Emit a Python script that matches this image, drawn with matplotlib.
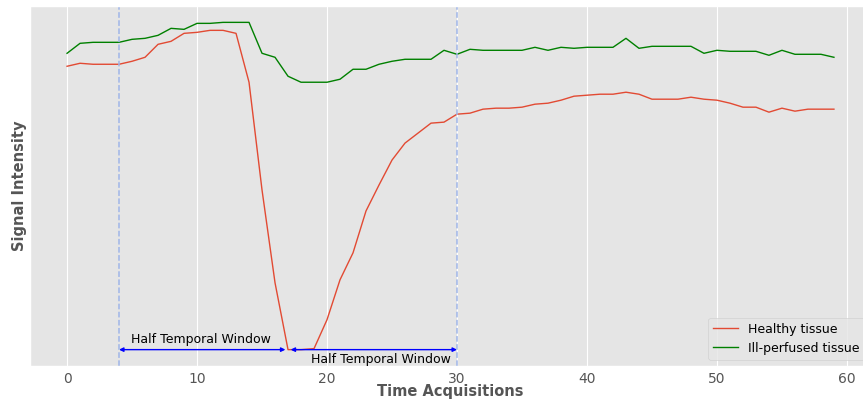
import numpy as np
import matplotlib
matplotlib.use("Agg")
import matplotlib.pyplot as plt

plt.style.use("ggplot")

# signal values (arbitrary units), one per acquisition
healthy = [300, 303, 302, 302, 302, 305, 309, 322, 325, 333, 334, 336, 336, 333,
           284, 176, 83, 16, 16, 17, 46, 86, 113, 155, 181, 206, 223, 233, 243, 244,
           252, 253, 257, 258, 258, 259, 262, 263, 266, 270, 271, 272, 272, 274,
           272, 267, 267, 267, 269, 267, 266, 263, 259, 259, 254, 258, 255, 257, 257, 257]
ill_perfused = [313, 323, 324, 324, 324, 327, 328, 331, 338, 337, 343, 343, 344, 344,
                344, 313, 309, 290, 284, 284, 284, 287, 297, 297, 302, 305, 307, 307,
                307, 316, 312, 317, 316, 316, 316, 316, 319, 316, 319, 318, 319, 319,
                319, 328, 318, 320, 320, 320, 320, 313, 316, 315, 315, 315, 311, 316,
                312, 312, 312, 309]
time = np.arange(len(healthy))

window_start = 4
window_center = 17
window_end = 30

fig = plt.figure(figsize=(8.63, 4.0), dpi=100)
# the original figure is cropped on the right, so the axes run past the edge
ax = fig.add_axes([30 / 863, 34 / 400, 841 / 863, 360 / 400])

ax.plot(time, healthy, color="#E24A33", lw=1, label="Healthy tissue")
ax.plot(time, ill_perfused, color="green", lw=1, label="Ill-perfused tissue")

ax.axvline(window_start, color="#9fb5e8", ls="--", lw=1.1)
ax.axvline(window_end, color="#9fb5e8", ls="--", lw=1.1)

y_arrow = 16
ax.annotate("", xy=(window_start, y_arrow), xytext=(window_center - 0.2, y_arrow),
            arrowprops=dict(arrowstyle="<|-|>", color="blue", lw=1,
                            mutation_scale=6, shrinkA=0, shrinkB=0))
ax.annotate("", xy=(window_center + 0.2, y_arrow), xytext=(window_end, y_arrow),
            arrowprops=dict(arrowstyle="<|-|>", color="blue", lw=1,
                            mutation_scale=6, shrinkA=0, shrinkB=0))
ax.text(window_start + 0.95, y_arrow + 4, "Half Temporal Window", fontsize=9,
        color="black", va="bottom", ha="left")
ax.text(window_end - 0.45, y_arrow - 3, "Half Temporal Window", fontsize=9,
        color="black", va="top", ha="right")

ax.set_xlim(-2.85, 61.85)
ax.set_yticks([])
ax.set_xticks([0, 10, 20, 30, 40, 50, 60])
ax.tick_params(axis="x", labelsize=10, colors="#555555", length=0, pad=4)
ax.set_xlabel("Time Acquisitions", fontsize=10.5, fontweight="bold",
              color="#555555", labelpad=-0.8)
ax.set_ylabel("Signal Intensity", fontsize=10.5, fontweight="bold",
              color="#555555", labelpad=2.5)
ax.legend(loc="lower right", fontsize=9)

fig.savefig("out.png", dpi=100)
